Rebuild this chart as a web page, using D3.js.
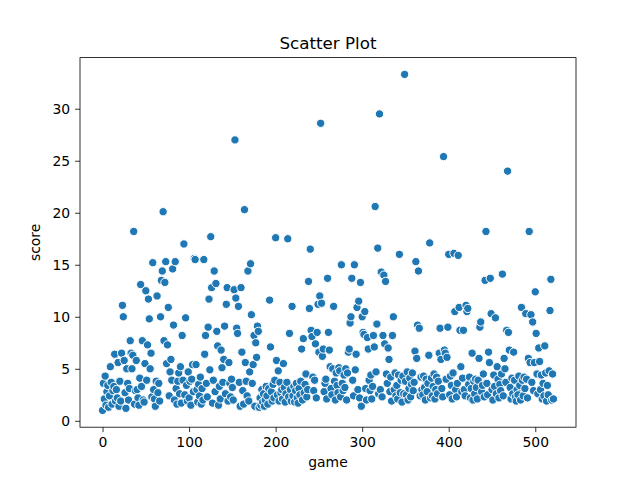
<!DOCTYPE html>
<html>
<head>
<meta charset="utf-8">
<script src="https://cdn.jsdelivr.net/npm/d3@7"></script>
<style>
  body { margin: 0; background: #fff; }
  text { font-family: "DejaVu Sans", sans-serif; fill: #000; }
</style>
</head>
<body>
<div id="chart"></div>
<script>
// score per game, game = index in the array (0..521)
const scores = [
  1.0, 3.6, 2.1, 4.3, 1.5, 2.8, 3.4, 1.3, 2.4, 5.2,
  3.7, 1.6, 2.9, 3.3, 6.4, 1.9, 3.0, 2.2, 5.6, 1.4,
  3.8, 1.9, 6.5, 11.1, 10.0, 5.8, 2.7, 1.2, 5.0, 3.6,
  2.0, 3.1, 7.7, 6.5, 5.0, 6.3, 18.2, 1.6, 2.9, 5.8,
  3.0, 2.2, 1.5, 4.1, 13.1, 3.3, 7.7, 2.0, 1.8, 5.5,
  12.5, 3.9, 7.3, 11.7, 9.8, 5.0, 6.5, 2.3, 15.2, 3.0,
  2.1, 1.4, 3.8, 12.0, 2.7, 3.6, 1.9, 10.0, 13.5, 14.4,
  20.1, 7.7, 13.3, 15.3, 5.5, 7.3, 10.9, 2.4, 4.7, 5.9,
  3.9, 14.6, 9.2, 2.0, 15.3, 3.1, 1.6, 3.8, 4.6, 2.6,
  5.2, 1.7, 8.2, 3.9, 17.0, 2.5, 9.9, 3.4, 1.9, 4.7,
  2.2, 3.8, 1.5, 4.0, 5.4, 2.8, 15.6, 15.5, 5.4, 3.0,
  1.8, 3.5, 2.4, 4.2, 1.6, 3.1, 2.0, 15.5, 6.4, 8.2,
  3.6, 2.3, 9.0, 11.7, 4.9, 17.7, 12.8, 1.7, 3.9, 14.4,
  2.8, 13.2, 8.6, 7.2, 1.5, 3.3, 2.1, 6.8, 5.1, 3.7,
  5.9, 9.1, 2.6, 11.2, 12.8, 1.9, 5.6, 3.6, 2.3, 4.0,
  3.2, 2.0, 12.6, 27.0, 11.8, 8.9, 8.4, 11.0, 3.7, 1.4,
  12.8, 6.6, 2.9, 1.6, 20.3, 5.6, 3.8, 2.4, 14.4, 1.9,
  4.7, 15.1, 10.2, 3.6, 5.4, 8.2, 1.4, 7.5, 6.1, 9.1,
  8.6, 1.3, 2.2, 1.5, 3.0, 1.8, 2.6, 1.4, 2.0, 3.3,
  2.4, 1.6, 3.1, 11.6, 7.1, 2.8, 1.9, 3.5, 2.2, 3.9,
  17.6, 5.8, 2.5, 4.8, 1.9, 3.7, 2.7, 3.0, 2.1, 5.5,
  3.2, 1.8, 2.6, 3.7, 17.5, 2.3, 8.4, 3.0, 1.9, 11.0,
  2.4, 3.3, 1.8, 2.9, 3.6, 2.2, 1.7, 3.1, 2.5, 3.8,
  6.9, 2.0, 7.9, 2.7, 3.5, 4.5, 2.3, 3.0, 13.4, 10.8,
  16.5, 8.7, 8.1, 4.2, 2.9, 3.9, 7.4, 2.2, 8.5, 11.2,
  6.6, 12.0, 28.6, 11.3, 6.2, 6.9, 2.8, 3.6, 4.0, 2.1,
  13.7, 8.5, 6.8, 5.2, 3.1, 2.5, 5.0, 11.0, 3.8, 2.0,
  4.6, 3.4, 2.7, 5.1, 4.8, 2.3, 15.0, 3.6, 2.9, 4.4,
  3.2, 5.0, 2.0, 4.6, 6.6, 6.9, 9.4, 10.0, 13.7, 3.9,
  2.4, 15.0, 4.9, 6.4, 10.9, 3.0, 11.5, 2.2, 13.3, 1.4,
  10.0, 8.5, 8.3, 10.5, 3.1, 2.0, 8.0, 6.9, 3.9, 2.9,
  4.4, 2.1, 3.3, 8.2, 7.1, 20.6, 4.7, 9.3, 16.6, 2.6,
  29.5, 3.0, 14.3, 2.3, 8.2, 14.0, 7.4, 13.4, 4.5, 3.6,
  7.0, 5.9, 2.8, 4.2, 1.9, 8.2, 10.0, 3.0, 4.6, 2.4,
  3.4, 2.1, 4.4, 16.0, 2.7, 3.9, 1.8, 4.3, 2.6, 33.3,
  3.8, 2.5, 4.7, 2.0, 3.1, 4.1, 2.3, 3.5, 4.6, 2.9,
  3.7, 6.7, 15.3, 6.0, 9.2, 14.4, 8.9, 2.4, 4.2, 3.0,
  2.5, 4.3, 3.2, 2.0, 4.0, 2.8, 3.6, 6.3, 17.1, 2.2,
  4.1, 2.4, 3.3, 4.5, 2.1, 3.0, 4.2, 2.6, 3.8, 6.5,
  8.9, 5.9, 3.1, 2.3, 25.4, 6.8, 6.5, 4.0, 6.1, 9.0,
  16.0, 2.5, 4.3, 3.4, 2.1, 4.6, 16.1, 10.5, 3.0, 2.3,
  3.6, 15.9, 10.9, 8.7, 5.2, 2.8, 4.1, 8.7, 3.0, 2.4,
  11.1, 10.5, 10.8, 3.5, 4.2, 2.2, 3.1, 6.5, 2.0, 3.8,
  2.6, 4.0, 3.2, 2.1, 3.9, 6.0, 9.0, 9.5, 2.8, 3.4,
  4.5, 2.3, 13.5, 18.2, 3.6, 2.5, 6.6, 5.6, 13.7, 10.3,
  3.0, 2.0, 4.4, 3.3, 9.9, 2.6, 5.2, 4.0, 2.2, 3.5,
  2.9, 4.5, 14.1, 2.4, 6.0, 5.0, 3.7, 8.7, 24.0, 8.5,
  6.8, 3.2, 2.1, 4.1, 2.6, 6.6, 3.9, 2.3, 1.9, 3.0,
  2.5, 4.3, 3.4, 2.0, 10.9, 3.9, 2.4, 4.2, 3.1, 10.3,
  4.0, 2.2, 6.0, 18.2, 5.6, 10.2, 3.7, 9.5, 2.9, 5.6,
  12.4, 8.4, 4.5, 2.6, 7.0, 5.7, 3.0, 4.4, 2.1, 3.6,
  2.4, 7.2, 4.6, 1.9, 3.4, 2.5, 4.8, 10.6, 13.6, 2.0,
  4.5, 2.1
];
const xTicks = [0, 100, 200, 300, 400, 500];
const yTicks = [0, 5, 10, 15, 20, 25, 30];

const data = scores.map((s, i) => ({game: i, score: s}));

const W = 640, H = 480;
const margin = {top: 57.6, right: 64, bottom: 52.8, left: 80};
const width = W - margin.left - margin.right;
const height = H - margin.top - margin.bottom;

const svg = d3.select("#chart")
    .append("svg")
    .attr("width", W)
    .attr("height", H);

const g = svg.append("g")
    .attr("transform", `translate(${margin.left},${margin.top})`);

// matplotlib style 5% padding on both axes
const xExt = d3.extent(data, d => d.game);
const yExt = d3.extent(data, d => d.score);
const xPad = (xExt[1] - xExt[0]) * 0.05;
const yPad = (yExt[1] - yExt[0]) * 0.05;

const x = d3.scaleLinear()
    .domain([xExt[0] - xPad, xExt[1] + xPad])
    .range([0, width]);

const y = d3.scaleLinear()
    .domain([yExt[0] - yPad, yExt[1] + yPad])
    .range([height, 0]);

const xAxis = g.append("g")
    .attr("transform", `translate(0,${height})`)
    .call(d3.axisBottom(x).tickValues(xTicks).tickSize(4.9).tickPadding(4.9));

const yAxis = g.append("g")
    .call(d3.axisLeft(y).tickValues(yTicks).tickSize(4.9).tickPadding(4.9));

[xAxis, yAxis].forEach(a => {
    a.select(".domain").remove();
    a.selectAll("line").attr("stroke", "#000").attr("stroke-width", 0.8);
    a.selectAll("text")
        .style("font-family", "DejaVu Sans, sans-serif")
        .style("font-size", "13.9px")
        .attr("fill", "#000");
});

g.selectAll(".dot")
    .data(data)
    .enter()
    .append("circle")
    .attr("class", "dot")
    .attr("cx", d => x(d.game))
    .attr("cy", d => y(d.score))
    .attr("r", 4.15)
    .attr("fill", "#1f77b4")
    .attr("stroke", "#fff")
    .attr("stroke-width", 1);

// frame
g.append("rect")
    .attr("width", width)
    .attr("height", height)
    .attr("fill", "none")
    .attr("stroke", "#000")
    .attr("stroke-width", 0.8);

svg.append("text")
    .attr("x", margin.left + width / 2)
    .attr("y", margin.top - 8.3)
    .attr("text-anchor", "middle")
    .style("font-size", "16.7px")
    .text("Scatter Plot");

svg.append("text")
    .attr("x", margin.left + width / 2)
    .attr("y", H - 13)
    .attr("text-anchor", "middle")
    .style("font-size", "13.9px")
    .text("game");

svg.append("text")
    .attr("transform", `translate(40,${margin.top + height / 2}) rotate(-90)`)
    .attr("text-anchor", "middle")
    .style("font-size", "13.9px")
    .text("score");
</script>
</body>
</html>
